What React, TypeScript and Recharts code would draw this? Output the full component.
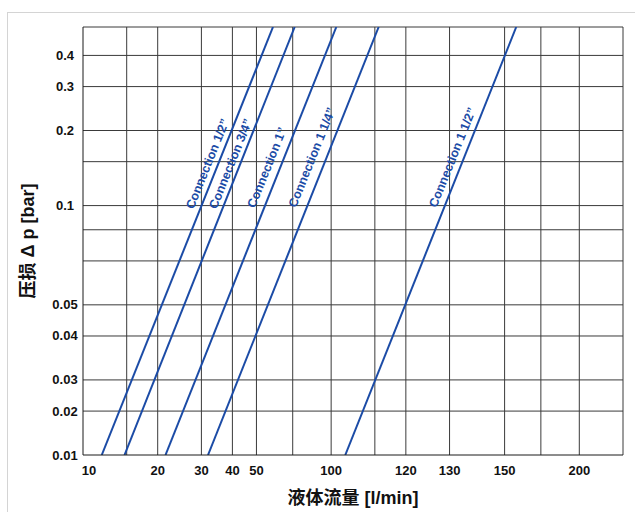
import React from "react";
import {
  ComposedChart,
  Line,
  Scatter,
  XAxis,
  YAxis,
  CartesianGrid,
  Label,
} from "recharts";

// flow [l/min] vs pressure drop [bar], both on log scales
const connection12 = [
  { x: 11.9, y: 0.01 },
  { x: 58.3, y: 0.52 },
];
const connection34 = [
  { x: 14.7, y: 0.01 },
  { x: 71.3, y: 0.52 },
];
const connection1 = [
  { x: 21.5, y: 0.01 },
  { x: 104.9, y: 0.52 },
];
const connection114 = [
  { x: 31.9, y: 0.01 },
  { x: 155.4, y: 0.52 },
];
const connection112 = [
  { x: 114, y: 0.01 },
  { x: 557, y: 0.52 },
];

const lineLabels = [
  { x: 31.8, y: 0.147, name: "Connection 1/2”" },
  { x: 39.4, y: 0.147, name: "Connection 3/4”" },
  { x: 55.2, y: 0.142, name: "Connection 1”" },
  { x: 83.8, y: 0.156, name: "Connection 1 1/4”" },
  { x: 308.8, y: 0.156, name: "Connection 1 1/2”" },
];

const xGrid = [15, 20, 25, 30, 40, 50, 60, 70, 80, 90, 100, 150, 200, 250, 300, 400, 500, 600, 700, 800, 900, 1000, 1500];
const xTickValues = [10, 20, 30, 40, 50, 100, 200, 300, 400, 500, 1000];
const xTickLabels = ["10", "20", "30", "40", "50", "100", "120", "130", "140", "150", "200"];

const yGrid = [0.015, 0.02, 0.025, 0.03, 0.04, 0.05, 0.06, 0.07, 0.08, 0.1, 0.15, 0.2, 0.25, 0.3, 0.4, 0.52];
const yTickValues = [0.01, 0.015, 0.02, 0.03, 0.04, 0.1, 0.2, 0.3, 0.4];
const yTickLabels = ["0.01", "0.02", "0.03", "0.04", "0.05", "0.1", "0.2", "0.3", "0.4"];

const series = [connection12, connection34, connection1, connection114, connection112];

const BLUE = "#1b4ba6";
const FONT = "'Liberation Sans', Arial, 'Noto Sans CJK SC', sans-serif";

const XTick = (props: any) => {
  const i = xTickValues.indexOf(props.payload.value);
  const shift = props.payload.value === 10 ? 6 : 0;
  return (
    <text x={props.x + shift} y={props.y + 20} textAnchor="middle" fontSize={13} fontWeight="bold" fill="#111" fontFamily={FONT}>
      {xTickLabels[i]}
    </text>
  );
};

const YTick = (props: any) => {
  const i = yTickValues.indexOf(props.payload.value);
  return (
    <text x={65} y={props.y + 4.5} textAnchor="middle" fontSize={13} fontWeight="bold" fill="#111" fontFamily={FONT}>
      {yTickLabels[i]}
    </text>
  );
};

const ConnectionLabel = (props: any) => {
  const { cx, cy, payload } = props;
  return (
    <text
      x={cx}
      y={cy}
      transform={`rotate(-68 ${cx} ${cy})`}
      textAnchor="middle"
      dominantBaseline="central"
      fontSize={12.5}
      fontWeight="bold"
      fill={BLUE}
      fontFamily={FONT}
    >
      {payload.name}
    </text>
  );
};

export default function App() {
  return (
    <div style={{ position: "relative", width: 635, height: 512, overflow: "hidden", background: "#fff" }}>
      <style>{`body{margin:0;overflow:hidden}`}</style>
      <div
        style={{
          position: "absolute",
          left: 7,
          top: 12,
          width: 700,
          height: 600,
          border: "1px solid #d4d4d4",
        }}
      />
      <div style={{ position: "absolute", left: 0, top: 0 }}>
        <ComposedChart width={635} height={512} margin={{ top: 27, right: 12, bottom: 27, left: 0 }}>
          <CartesianGrid
            stroke="#3a3a3a"
            strokeWidth={1}
            verticalValues={xGrid}
            horizontalValues={yGrid}
          />
          <XAxis
            dataKey="x"
            type="number"
            scale="log"
            domain={[10, 1500]}
            allowDataOverflow
            ticks={xTickValues}
            tick={XTick}
            tickLine={false}
            tickSize={0}
            tickMargin={0}
            height={30}
            axisLine={{ stroke: "#1a1a1a" }}
          >
            <Label
              content={({ viewBox }: any) => (
                <text
                  x={viewBox.x + viewBox.width / 2}
                  y={viewBox.y + 49}
                  textAnchor="middle"
                  fontSize={18}
                  fontWeight="bold"
                  fill="#111"
                  fontFamily={FONT}
                >
                  液体流量 [l/min]
                </text>
              )}
            />
          </XAxis>
          <YAxis
            dataKey="y"
            type="number"
            scale="log"
            domain={[0.01, 0.52]}
            allowDataOverflow
            ticks={yTickValues}
            tick={YTick}
            tickLine={false}
            width={83}
            axisLine={{ stroke: "#1a1a1a" }}
          >
            <Label
              content={({ viewBox }: any) => {
                const cx = 28;
                const cy = viewBox.y + viewBox.height / 2;
                return (
                  <text
                    x={cx}
                    y={cy}
                    transform={`rotate(-90 ${cx} ${cy})`}
                    textAnchor="middle"
                    dominantBaseline="central"
                    fontSize={18}
                    fontWeight="bold"
                    fill="#111"
                    fontFamily={FONT}
                  >
                    压损 Δ p [bar]
                  </text>
                );
              }}
            />
          </YAxis>
          {series.map((d, i) => (
            <Line
              key={i}
              data={d}
              dataKey="y"
              type="linear"
              stroke={BLUE}
              strokeWidth={2}
              dot={false}
              activeDot={false}
              isAnimationActive={false}
            />
          ))}
          <Scatter data={lineLabels} dataKey="y" shape={ConnectionLabel} isAnimationActive={false} />
        </ComposedChart>
      </div>
    </div>
  );
}
